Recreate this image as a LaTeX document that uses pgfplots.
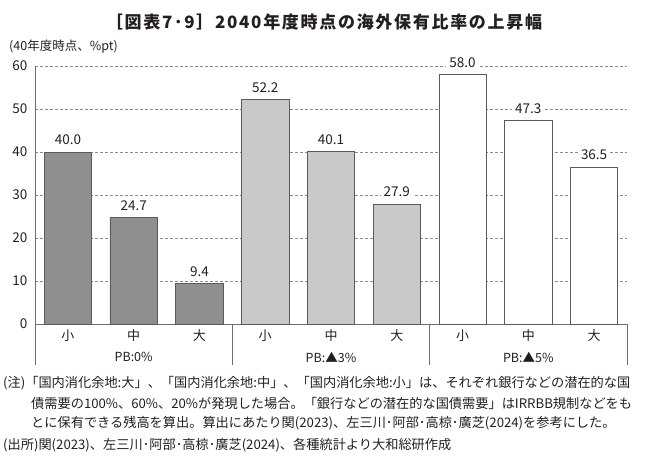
\documentclass[border=0pt]{standalone}
\usepackage{fontspec}
\setmainfont{Noto Sans CJK JP}
\usepackage{pgfplots}
\pgfplotsset{compat=1.18}
\definecolor{txt}{HTML}{231F20}
\definecolor{barA}{HTML}{8F8F8F}
\definecolor{barB}{HTML}{C9C9C9}
\definecolor{edge}{HTML}{5A5A5A}
\definecolor{axc}{HTML}{6E6E6E}
\begin{document}
\begin{tikzpicture}[x=1pt,y=1pt]
\path[use as bounding box] (0,0) rectangle (650,461);
\begin{axis}[
  at={(35pt,137pt)}, anchor=south west,
  scale only axis, width=592pt, height=258pt,
  xmin=-0.5, xmax=8.5, ymin=0, ymax=60,
  ytick={0,10,...,60},
  xtick={0,...,8},
  xticklabels={小,中,大,小,中,大,小,中,大},
  major tick length=0pt,
  axis x line*=bottom, axis y line*=left,
  axis line style={axc, line width=0.8pt},
  ymajorgrids, grid style={axc!80, dash pattern=on 3pt off 2pt, line width=0.5pt},
  clip=false,
  /pgf/number format/assume math mode=true,
  tick label style={font=\fontsize{13.5}{15}\selectfont, text=txt},
  yticklabel style={xshift=-4pt},
  xticklabel style={anchor=center, yshift=-12pt, font=\fontsize{13}{14}\selectfont},
  nodes near coords,
  nodes near coords style={font=\fontsize{13.5}{15}\selectfont, text=txt, fill=white, anchor=center, yshift=12pt, inner sep=3pt,
    /pgf/number format/.cd, fixed, fixed zerofill, precision=1, assume math mode=true},
]
\addplot[ybar, bar width=0.72, fill=barA, draw=edge, line width=0.6pt] coordinates {(0,40.0) (1,24.7) (2,9.4)};
\addplot[ybar, bar width=0.72, fill=barB, draw=edge, line width=0.6pt] coordinates {(3,52.2) (4,40.1) (5,27.9)};
\addplot[ybar, bar width=0.72, fill=white, draw=edge, line width=0.6pt] coordinates {(6,58.0) (7,47.3) (8,36.5)};
\draw[axc, line width=0.8pt] (axis cs:-0.5,0) -- ([yshift=-41pt]axis cs:-0.5,0);
\draw[axc, line width=0.8pt] (axis cs:2.5,0) -- ([yshift=-41pt]axis cs:2.5,0);
\draw[axc, line width=0.8pt] (axis cs:5.5,0) -- ([yshift=-41pt]axis cs:5.5,0);
\draw[axc, line width=0.8pt] (axis cs:8.5,0) -- ([yshift=-41pt]axis cs:8.5,0);
\node[text=txt, font=\fontsize{12.5}{14}\selectfont] at (axis cs:1,0) [yshift=-33pt] {PB:0\%};
\node[text=txt, font=\fontsize{12.5}{14}\selectfont] at (axis cs:4,0) [yshift=-33pt] {PB:▲3\%};
\node[text=txt, font=\fontsize{12.5}{14}\selectfont] at (axis cs:7,0) [yshift=-33pt] {PB:▲5\%};
\end{axis}
\node[text=txt, font=\fontsize{17}{20}\selectfont\bfseries\addfontfeatures{LetterSpace=10}] at (324,439) {［図表7･9］2040年度時点の海外保有比率の上昇幅};
\node[text=txt, anchor=west, inner sep=0pt, font=\fontsize{12.5}{14}\selectfont] at (9,414) {(40年度時点、\%pt)};
\node[text=txt, anchor=west, inner sep=0pt, font=\fontsize{13.2}{16}\selectfont] at (3,78) {(注)「国内消化余地:大」、「国内消化余地:中」、「国内消化余地:小」は、それぞれ銀行などの潜在的な国};
\node[text=txt, anchor=west, inner sep=0pt, font=\fontsize{13.2}{16}\selectfont] at (31,58) {債需要の100\%、60\%、20\%が発現した場合。「銀行などの潜在的な国債需要」はIRRBB規制などをも};
\node[text=txt, anchor=west, inner sep=0pt, font=\fontsize{13.2}{16}\selectfont] at (31,38) {とに保有できる残高を算出。算出にあたり関(2023)、左三川･阿部･高椋･廣芝(2024)を参考にした。};
\node[text=txt, anchor=west, inner sep=0pt, font=\fontsize{13.2}{16}\selectfont] at (3,16) {(出所)関(2023)、左三川･阿部･高椋･廣芝(2024)、各種統計より大和総研作成};
\end{tikzpicture}
\end{document}
